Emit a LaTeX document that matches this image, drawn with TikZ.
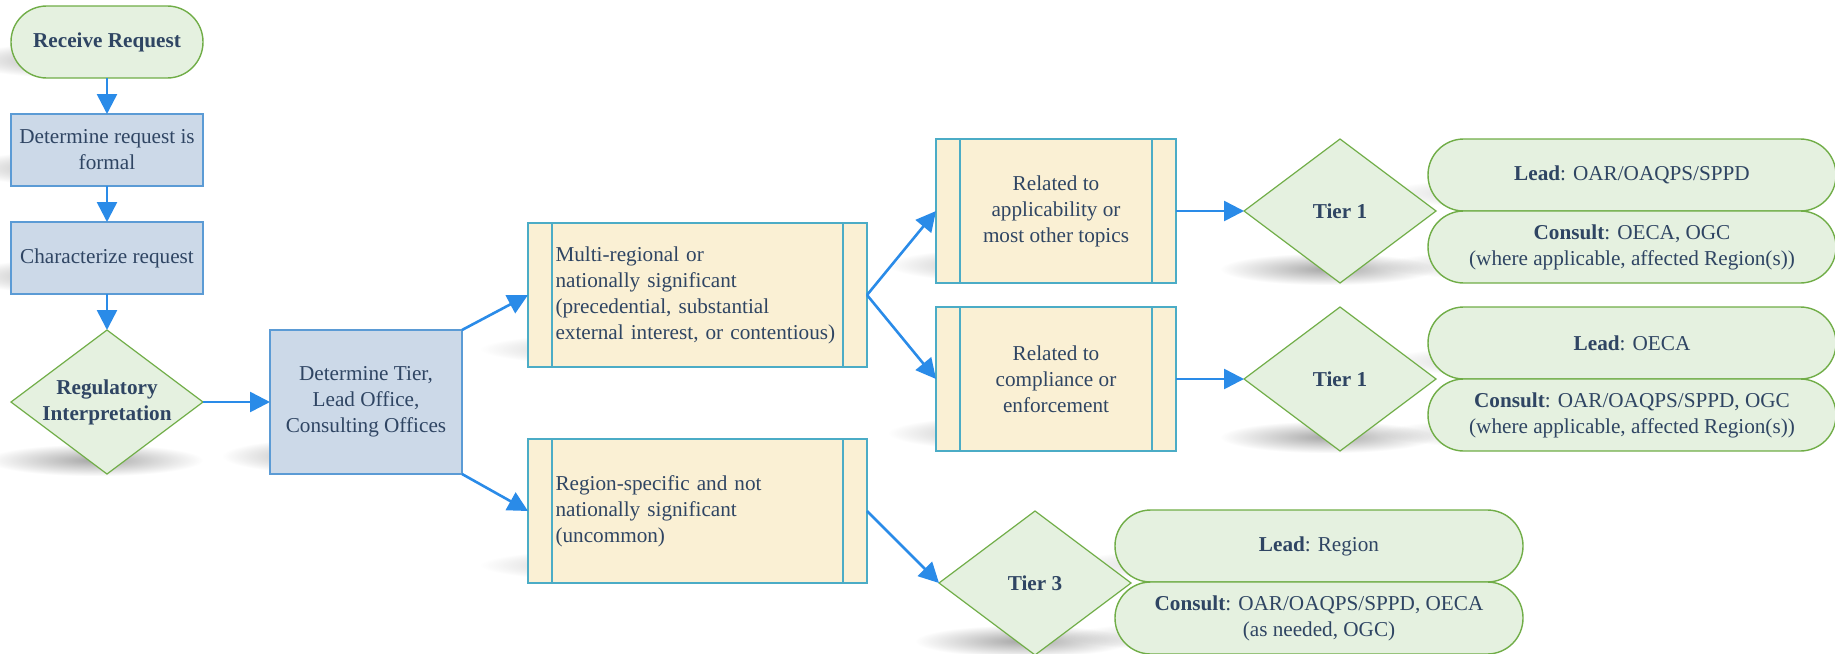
\documentclass[tikz,border=0pt]{standalone}
\usepackage{fontspec}
\setmainfont{Liberation Serif}
\usetikzlibrary{arrows.meta,positioning,shapes.geometric,backgrounds,fadings,calc}

\definecolor{txtblue}{HTML}{2F4563}
\definecolor{procfill}{HTML}{CCD9E8}
\definecolor{procdraw}{HTML}{5B9BD5}
\definecolor{subfill}{HTML}{FAF0D4}
\definecolor{subdraw}{HTML}{4BACC6}
\definecolor{termfill}{HTML}{E5F1E0}
\definecolor{termdraw}{HTML}{70AD47}
\definecolor{arrowblue}{HTML}{2A8BE8}

\tikzfading[name=fade out, inner color=transparent!0, outer color=transparent!100]

\begin{document}
\begin{tikzpicture}[
  node distance=18pt,
  font=\fontsize{10.6}{13}\selectfont,
  every node/.style={text=txtblue, outer sep=0pt},
  term/.style={
    draw=termdraw,
    fill=termfill,
    rounded corners=17.9pt,
    minimum width=96pt,
    minimum height=36pt,
    align=center,
    line width=0.7pt
  },
  office/.style={term, minimum width=204pt},
  proc/.style={
    draw=procdraw,
    fill=procfill,
    minimum width=96pt,
    minimum height=36pt,
    inner sep=2pt,
    align=center,
    line width=0.7pt
  },
  subproc/.style={
    draw=subdraw,
    fill=subfill,
    minimum height=72pt,
    inner sep=0pt,
    line width=0.7pt
  },
  decision/.style={
    diamond,
    draw=termdraw,
    fill=termfill,
    aspect=1.333,
    minimum width=96pt,
    minimum height=72pt,
    inner sep=0pt,
    align=center,
    font=\fontsize{10.6}{13}\selectfont\bfseries,
    line width=0.6pt
  },
  line/.style={-{Triangle[length=10pt,width=10pt]}, line width=1.3pt, arrowblue}
]
\useasboundingbox (0,0) rectangle (917.5pt,-326.5pt);

% Intake column
\node[term,font=\fontsize{10.6}{13}\selectfont\bfseries] (receive) at (53.5pt,-21pt) {Receive Request};

\node[proc,below=of receive] (formal) {Determine request is\\formal};

\node[proc,below=of formal] (charac) {Characterize request};

\node[decision,below=of charac] (regint) {Regulatory\\Interpretation};

\node[proc,minimum height=72pt,right=33.5pt of regint] (tier)
{Determine Tier,\\Lead Office,\\Consulting Offices};

% Significance
\node[subproc,minimum width=169.5pt,text width=142pt,align=left,right=33pt of tier,yshift=53.5pt] (multi)
{Multi-regional or\\nationally significant\\(precedential, substantial\\external interest, or contentious)};

\node[subproc,minimum width=169.5pt,text width=142pt,align=left,right=33pt of tier,yshift=-54.5pt] (region)
{Region-specific and not\\nationally significant\\(uncommon)};

% Topic
\node[subproc,minimum width=120pt,align=center,right=34.5pt of multi,yshift=42pt] (relapp)
{Related to\\applicability or\\most other topics};

\node[subproc,minimum width=120pt,align=center,right=34.5pt of multi,yshift=-42pt] (relcomp)
{Related to\\compliance or\\enforcement};

% Tiers
\node[decision,right=34pt of relapp] (tieronea) {Tier 1};
\node[decision,right=34pt of relcomp] (tieroneb) {Tier 1};
\node[decision,right=36pt of region,yshift=-36pt] (tierthree) {Tier 3};

% Offices
\node[office,right=-4pt of tieronea,yshift=18pt] (leada) {\textbf{Lead}: OAR/OAQPS/SPPD};
\node[office,below=0pt of leada] (consulta)
{\textbf{Consult}: OECA, OGC\\(where applicable, affected Region(s))};

\node[office,right=-4pt of tieroneb,yshift=18pt] (leadb) {\textbf{Lead}: OECA};
\node[office,below=0pt of leadb] (consultb)
{\textbf{Consult}: OAR/OAQPS/SPPD, OGC\\(where applicable, affected Region(s))};

\node[office,right=-8pt of tierthree,yshift=18.5pt] (leadc) {\textbf{Lead}: Region};
\node[office,below=0pt of leadc] (consultc)
{\textbf{Consult}: OAR/OAQPS/SPPD, OECA\\(as needed, OGC)};

% Side bars of the subprocess boxes
\foreach \n in {multi,region,relapp,relcomp}{
  \draw[subdraw,line width=0.7pt] ([xshift=12pt]\n.north west) -- ([xshift=12pt]\n.south west);
  \draw[subdraw,line width=0.7pt] ([xshift=-12pt]\n.north east) -- ([xshift=-12pt]\n.south east);
}

% Arrows
\draw[line] (receive) -- (formal);
\draw[line] (formal) -- (charac);
\draw[line] (charac) -- (regint);
\draw[line] (regint) -- (tier);

\draw[line] (tier.north east) -- (multi.west);
\draw[line] (tier.south east) -- (region.west);

\draw[line] (multi.east) -- (relapp.west);
\draw[line] (multi.east) -- (relcomp.west);

\draw[line] (relapp) -- (tieronea);
\draw[line] (relcomp) -- (tieroneb);
\draw[line] (region.east) -- (tierthree.west);

% Soft shadows
\begin{scope}[on background layer]
\foreach \n in {receive,formal,charac,tier,multi,region,relapp,relcomp,leada,consulta,leadb,consultb,leadc,consultc}
  \fill[black,fill opacity=0.35,path fading=fade out]
    ($(\n.west |- \n.south)+(-24pt,0pt)$) rectangle
    ($(\n.east |- \n.south)+(-4pt,18pt)$);
\foreach \n in {regint,tieronea,tieroneb,tierthree}
  \fill[black,fill opacity=0.35,path fading=fade out]
    ($(\n.west |- \n.south)+(-12pt,-1pt)$) rectangle
    ($(\n.east |- \n.south)+(0pt,15pt)$);
\end{scope}

\end{tikzpicture}
\end{document}
